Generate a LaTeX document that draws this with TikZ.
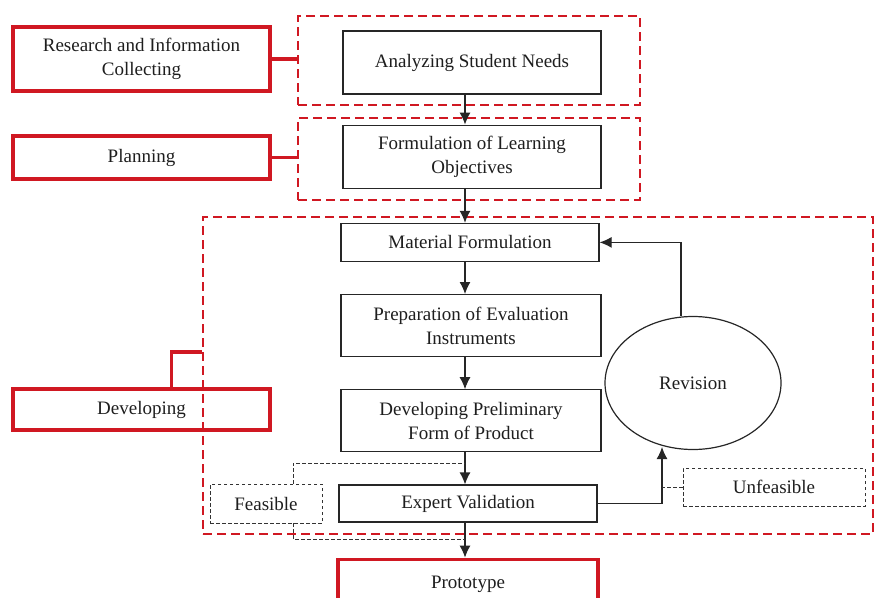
\documentclass[tikz,border=0pt]{standalone}
\usepackage{fontspec}
\setmainfont{Liberation Serif}
\usetikzlibrary{positioning, shapes.geometric, arrows.meta}

\definecolor{stagered}{RGB}{208,24,34}
\definecolor{textgray}{RGB}{30,30,30}

\begin{document}
\begin{tikzpicture}[
        x=1pt, y=-1pt,
        node distance=32pt,
        every node/.style={align=center, text=textgray, font=\fontsize{19}{24}\selectfont, inner sep=2pt},
        stage/.style={draw=stagered, line width=2.4pt, dash pattern=on 9pt off 5pt},
        phase/.style={draw=stagered, line width=3.4pt, minimum width=257pt},
        stepbox/.style={draw=black!85, line width=1.2pt, minimum width=258pt},
        result/.style={draw=black!80, line width=0.9pt, dash pattern=on 3.5pt off 2.5pt},
        link/.style={-{Latex[length=12pt,width=11pt]}, line width=1.2pt, black!85},
        redlink/.style={stagered, line width=3.4pt},
        dashlink/.style={black!80, line width=0.9pt, dash pattern=on 3.5pt off 2.5pt}
    ]

    \useasboundingbox (0,0) rectangle (874,597);

    % Stages (dashed frames)
    \node[stage, minimum width=342pt, minimum height=89pt] (s1) at (469,60.5) {};
    \node[stage, minimum width=342pt, minimum height=82pt] (s2) at (469,159) {};
    \node[stage, minimum width=670pt, minimum height=317pt] (s3) at (538,375.5) {};

    % Phases
    \node[phase, minimum height=64pt] (research) at (141.5,59) {Research and Information\\Collecting};
    \node[phase, minimum height=43pt] (planning) at (141.5,157.5) {Planning};
    \node[phase, minimum height=41pt] (developing) at (141.5,409.5) {Developing};

    \draw[redlink] (research.east) -- (research.east -| s1.west);
    \draw[redlink] (planning.east) -- (planning.east -| s2.west);
    \draw[redlink] ([xshift=30pt]developing.north) |- ([yshift=23.5pt]s3.west);

    % Steps
    \coordinate (spine) at (465,0);
    \node[stepbox, minimum height=63pt] (analyzing) at (472,62.5) {Analyzing Student Needs};
    \node[stepbox, minimum height=63pt, below=30pt of analyzing] (formulation) {Formulation of Learning\\Objectives};
    \node[stepbox, minimum height=38pt, below=34pt of formulation, xshift=-2pt] (material) {Material Formulation};
    \node[stepbox, minimum height=62pt, minimum width=260pt, below=32pt of material, xshift=1pt] (instruments) {Preparation of Evaluation\\Instruments};
    \node[stepbox, minimum height=62pt, minimum width=260pt, below=32pt of instruments] (preliminary) {Developing Preliminary\\Form of Product};
    \node[stepbox, minimum height=37pt, below=32pt of preliminary, xshift=-3pt] (validation) {Expert Validation};
    \node[phase, minimum height=50pt, minimum width=260pt, below=35pt of validation] (prototype) {Prototype};

    \draw[link] (analyzing.south -| spine) -- (formulation.north -| spine);
    \draw[link] (formulation.south -| spine) -- (material.north -| spine);
    \draw[link] (material.south -| spine) -- (instruments.north -| spine);
    \draw[link] (instruments.south -| spine) -- (preliminary.north -| spine);
    \draw[link] (preliminary.south -| spine) -- (validation.north -| spine);
    \draw[link] (validation.south -| spine) -- (prototype.north -| spine);

    % Revision loop
    \node[ellipse, draw=black!85, line width=1.2pt, minimum width=176pt, minimum height=133pt] (revision) at (693,383) {Revision};
    \coordinate (revin) at (662,447);
    \draw[link] ([xshift=-12pt]revision.north) |- (material.east);
    \draw[link] (validation.east) -| (revin);

    % Outcomes
    \node[result, minimum width=182pt, minimum height=38pt] (unfeasible) at (774,487) {Unfeasible};
    \node[result, minimum width=112pt, minimum height=39pt] (feasible) at (266,503.5) {Feasible};
    \coordinate (fa) at (465,463);
    \coordinate (fb) at (465,539);
    \draw[dashlink] (unfeasible.west) -- (unfeasible.west -| revin);
    \draw[dashlink] ([xshift=27pt]feasible.north) |- (fa);
    \draw[dashlink] ([xshift=27pt]feasible.south) |- (fb);

    \end{tikzpicture}
\end{document}
